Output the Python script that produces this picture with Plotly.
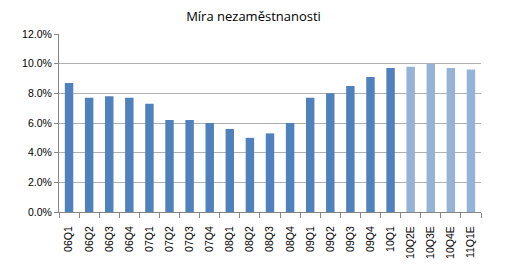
import plotly.graph_objects as go

categories = ["06Q1","06Q2","06Q3","06Q4","07Q1","07Q2","07Q3","07Q4","08Q1","08Q2","08Q3",
              "08Q4","09Q1","09Q2","09Q3","09Q4","10Q1","10Q2E","10Q3E","10Q4E","11Q1E"]
values = [8.7, 7.7, 7.8, 7.7, 7.3, 6.2, 6.2, 6.0, 5.6, 5.0, 5.3,
          6.0, 7.7, 8.0, 8.5, 9.1, 9.7, 9.8, 10.0, 9.7, 9.6]
is_estimate = [c.endswith("E") for c in categories]
y_ticks = [0, 2, 4, 6, 8, 10, 12]
y_tick_labels = ["0.0%", "2.0%", "4.0%", "6.0%", "8.0%", "10.0%", "12.0%"]

colors = ["#95B3D7" if e else "#4F81BD" for e in is_estimate]

fig = go.Figure(go.Bar(x=categories, y=values, marker_color=colors,
                       marker_line_width=0, width=0.42))

fig.update_layout(
    width=507, height=274,
    margin=dict(l=59, r=26, t=34, b=62),
    paper_bgcolor="white", plot_bgcolor="white",
    showlegend=False,
    title=dict(text="Míra nezaměstnanosti", x=0.5, xanchor="center", y=0.94, yanchor="middle",
               font=dict(family="Open Sans", size=13, color="#000000")),
    font=dict(family="Liberation Sans", size=10, color="#000000"),
)
fig.update_xaxes(type="category", tickangle=-90, showline=True, linecolor="#868686",
                 ticks="outside", tickson="boundaries", ticklen=5, tickcolor="#868686",
                 ticklabelstandoff=9,
                 showgrid=False, tickfont=dict(family="Liberation Sans", size=10.5))
fig.update_yaxes(range=[0, 12], tickvals=y_ticks, ticktext=y_tick_labels,
                 showline=True, linecolor="#868686", ticks="outside", ticklen=4,
                 tickcolor="#868686", showgrid=True, gridcolor="#B0B0B0", gridwidth=1,
                 zeroline=False, tickfont=dict(family="Liberation Sans", size=10.5))

fig.write_html("out.html")
